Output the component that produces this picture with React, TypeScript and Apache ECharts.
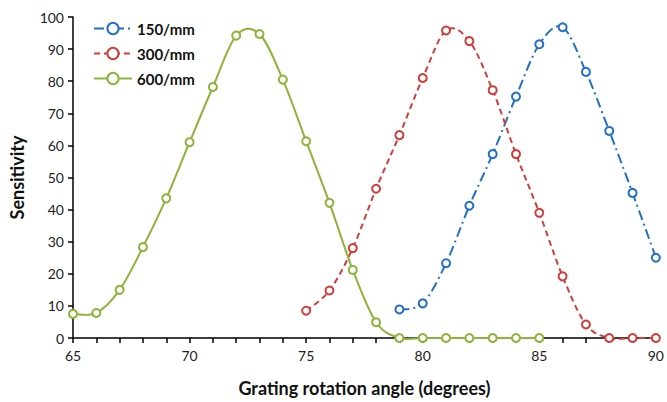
import React, { useEffect, useRef } from "react";
import * as echarts from "echarts";

const xs150 = [79, 80, 81, 82, 83, 84, 85, 86, 87, 88, 89, 90];
const ys150 = [8.9, 10.8, 23.3, 41.2, 57.3, 75.2, 91.5, 96.8, 82.9, 64.5, 45.2, 25];
const xs300 = [75, 76, 77, 78, 79, 80, 81, 82, 83, 84, 85, 86, 87, 88, 89, 90];
const ys300 = [8.5, 14.8, 28, 46.5, 63.2, 81, 95.8, 92.5, 77.2, 57.3, 39, 19.2, 4.2, 0, 0, 0];
const xs600 = [65, 66, 67, 68, 69, 70, 71, 72, 73, 74, 75, 76, 77, 78, 79, 80, 81, 82, 83, 84, 85];
const ys600 = [7.5, 7.8, 15, 28.3, 43.5, 61, 78.2, 94.2, 94.7, 80.5, 61.3, 42.1, 21.2, 4.9, 0, 0, 0, 0, 0, 0, 0];
const names = ["150/mm", "300/mm", "600/mm"];
const colors = ["#2270C4", "#CF3E3B", "#8DB33A"];
const dashes: any[] = [[10, 4, 2, 4], [6, 4], "solid"];

const pair = (xs: number[], ys: number[]) => xs.map((x, i) => [x, ys[i]]);
const sets = [pair(xs150, ys150), pair(xs300, ys300), pair(xs600, ys600)];

const FONT = "Lato, 'Open Sans', sans-serif";

// Smooth curve (Catmull-Rom as cubic Bezier) in pixel space through the data points
function curvePath(pts: number[][]) {
  let d = `M${pts[0][0]},${pts[0][1]}`;
  for (let i = 0; i < pts.length - 1; i++) {
    const p0 = pts[Math.max(i - 1, 0)];
    const p1 = pts[i];
    const p2 = pts[i + 1];
    const p3 = pts[Math.min(i + 2, pts.length - 1)];
    const c1x = p1[0] + (p2[0] - p0[0]) / 6;
    const c1y = p1[1] + (p2[1] - p0[1]) / 6;
    const c2x = p2[0] - (p3[0] - p1[0]) / 6;
    const c2y = p2[1] - (p3[1] - p1[1]) / 6;
    d += ` C${c1x},${c1y} ${c2x},${c2y} ${p2[0]},${p2[1]}`;
  }
  return d;
}

export default function App() {
  const ref = useRef<HTMLDivElement>(null);
  useEffect(() => {
    if (!ref.current) return;
    const chart = echarts.init(ref.current, undefined, { renderer: "svg" });
    const curves = sets.map((data, k) => ({
      type: "custom",
      data: [data[0]],
      silent: true,
      z: 1,
      renderItem: (_params: any, api: any) => {
        const pts = data.map((p) => api.coord(p));
        return {
          type: "path",
          shape: { pathData: curvePath(pts) },
          style: {
            fill: "none",
            stroke: colors[k],
            lineWidth: 2,
            lineDash: dashes[k] === "solid" ? null : dashes[k],
          },
        };
      },
    }));
    const markers = sets.map((data, k) => ({
      name: names[k],
      type: "line",
      data,
      z: 3,
      symbol: "circle",
      symbolSize: 8,
      itemStyle: { color: "#fff", borderColor: colors[k], borderWidth: 2 },
      lineStyle: { color: colors[k], width: 2, type: dashes[k], opacity: 0 },
      emphasis: { disabled: true },
    }));
    chart.setOption({
      animation: false,
      backgroundColor: "#fff",
      textStyle: { fontFamily: FONT },
      grid: { left: 73, right: 10, top: 17, bottom: 60 },
      legend: {
        orient: "vertical",
        left: 93,
        top: 21,
        padding: 0,
        itemWidth: 38,
        itemHeight: 14,
        itemGap: 10,
        textStyle: { fontFamily: FONT, fontSize: 15, fontWeight: "bold", color: "#111" },
        data: names.map((n, k) => ({
          name: n,
          lineStyle: { color: colors[k], width: 2, type: dashes[k], opacity: 1 },
          itemStyle: { color: "#fff", borderColor: colors[k], borderWidth: 2 },
        })),
      },
      xAxis: {
        type: "value",
        min: 65,
        max: 90,
        interval: 5,
        name: "Grating rotation angle (degrees)",
        nameLocation: "middle",
        nameGap: 41,
        nameTextStyle: { fontFamily: FONT, fontSize: 18, fontWeight: "bold", color: "#111" },
        axisLine: { lineStyle: { color: "#000", width: 1.5 } },
        axisTick: { show: true, length: 5, lineStyle: { color: "#000", width: 1.5 } },
        minorTick: { show: true, splitNumber: 5, length: 5, lineStyle: { color: "#000", width: 1.5 } },
        axisLabel: { fontFamily: FONT, fontSize: 14, color: "#222", margin: 10 },
        splitLine: { show: false },
      },
      yAxis: {
        type: "value",
        min: 0,
        max: 100,
        interval: 10,
        name: "Sensitivity",
        nameLocation: "middle",
        nameGap: 47,
        nameTextStyle: { fontFamily: FONT, fontSize: 18, fontWeight: "bold", color: "#111" },
        axisLine: { show: true, lineStyle: { color: "#000", width: 1.5 } },
        axisTick: { show: true, length: 5, lineStyle: { color: "#000", width: 1.5 } },
        axisLabel: { fontFamily: FONT, fontSize: 14, color: "#222", margin: 9 },
        splitLine: { show: false },
      },
      series: [...curves, ...markers],
    });
    return () => chart.dispose();
  }, []);
  return (
    <div
      ref={ref}
      style={{ position: "absolute", left: 0, top: 0, width: 667, height: 402 }}
    />
  );
}
